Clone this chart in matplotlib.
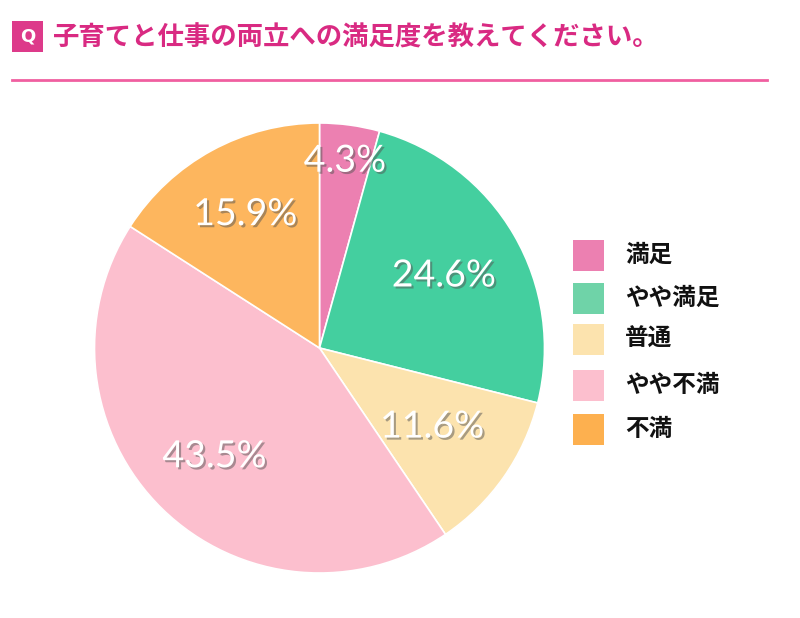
import numpy as np
import matplotlib
matplotlib.use("Agg")
import matplotlib.pyplot as plt
import matplotlib.patheffects as pe
from matplotlib.patches import FancyBboxPatch, Rectangle
from matplotlib.lines import Line2D

title = "子育てと仕事の両立への満足度を教えてください。"
labels = ["満足", "やや満足", "普通", "やや不満", "不満"]
values = [4.3, 24.6, 11.6, 43.5, 15.9]
colors = ["#EC80B1", "#44CF9F", "#FCE3AE", "#FCBFCE", "#FDB65E"]
legend_colors = ["#EC80B1", "#6FD3A8", "#FCE3AE", "#FCBFCE", "#FDB04F"]
label_dist = [0.84, 0.64, 0.61, 0.67, 0.68]

plt.rcParams["font.family"] = ["Noto Sans CJK JP", "DejaVu Sans"]

fig = plt.figure(figsize=(8, 6.18), dpi=100)
W, H = 800, 618

# pie axes: centre (319, 348), radius 225 px
cx, cy, r = 319.5, 348, 225
ax = fig.add_axes([(cx - r) / W, 1 - (cy + r) / H, 2 * r / W, 2 * r / H])
wedges, _ = ax.pie(values, colors=colors, startangle=90, counterclock=False,
                   wedgeprops=dict(edgecolor="white", linewidth=1.2))
ax.set_xlim(-1, 1)
ax.set_ylim(-1, 1)
ax.set_aspect("equal")

cum = np.cumsum([0] + values[:-1])
for v, c0, d in zip(values, cum, label_dist):
    ang = np.deg2rad(90 - (c0 + v / 2) * 3.6)
    ax.text(d * np.cos(ang), d * np.sin(ang), f"{v}%", ha="center", va="center",
            fontsize=27, color="white", family=["Lato", "DejaVu Sans"],
            path_effects=[pe.withSimplePatchShadow(offset=(1.5, -1.5), shadow_rgbFace="#555555", alpha=0.5)])

# header
fig.patches.append(FancyBboxPatch((12 / W, 1 - 52 / H), 31 / W, 31 / H,
                                  boxstyle="square,pad=0", transform=fig.transFigure,
                                  facecolor="#DD3A8A", edgecolor="none"))
fig.text(27.5 / W, 1 - 36.5 / H, "Q", ha="center", va="center", color="white",
         fontsize=13, fontweight="bold", family=["DejaVu Sans"])
fig.text(53 / W, 1 - 38 / H, title, ha="left", va="center", color="#D92A82",
         fontsize=19, fontweight="bold")
fig.lines.append(Line2D([12 / W, 767 / W], [1 - 80 / H, 1 - 80 / H], transform=fig.transFigure,
                        color="#F05FA0", linewidth=2))

# legend
rows = [255, 298, 339, 385, 429]
for lab, col, y in zip(labels, legend_colors, rows):
    fig.patches.append(Rectangle((573 / W, 1 - (y + 16) / H), 31 / W, 31 / H,
                                 transform=fig.transFigure, facecolor=col, edgecolor="none"))
    fig.text(625 / W, 1 - y / H, lab, ha="left", va="center", fontsize=17,
             fontweight="bold", color="#111111")

fig.savefig("out.png", dpi=100)
